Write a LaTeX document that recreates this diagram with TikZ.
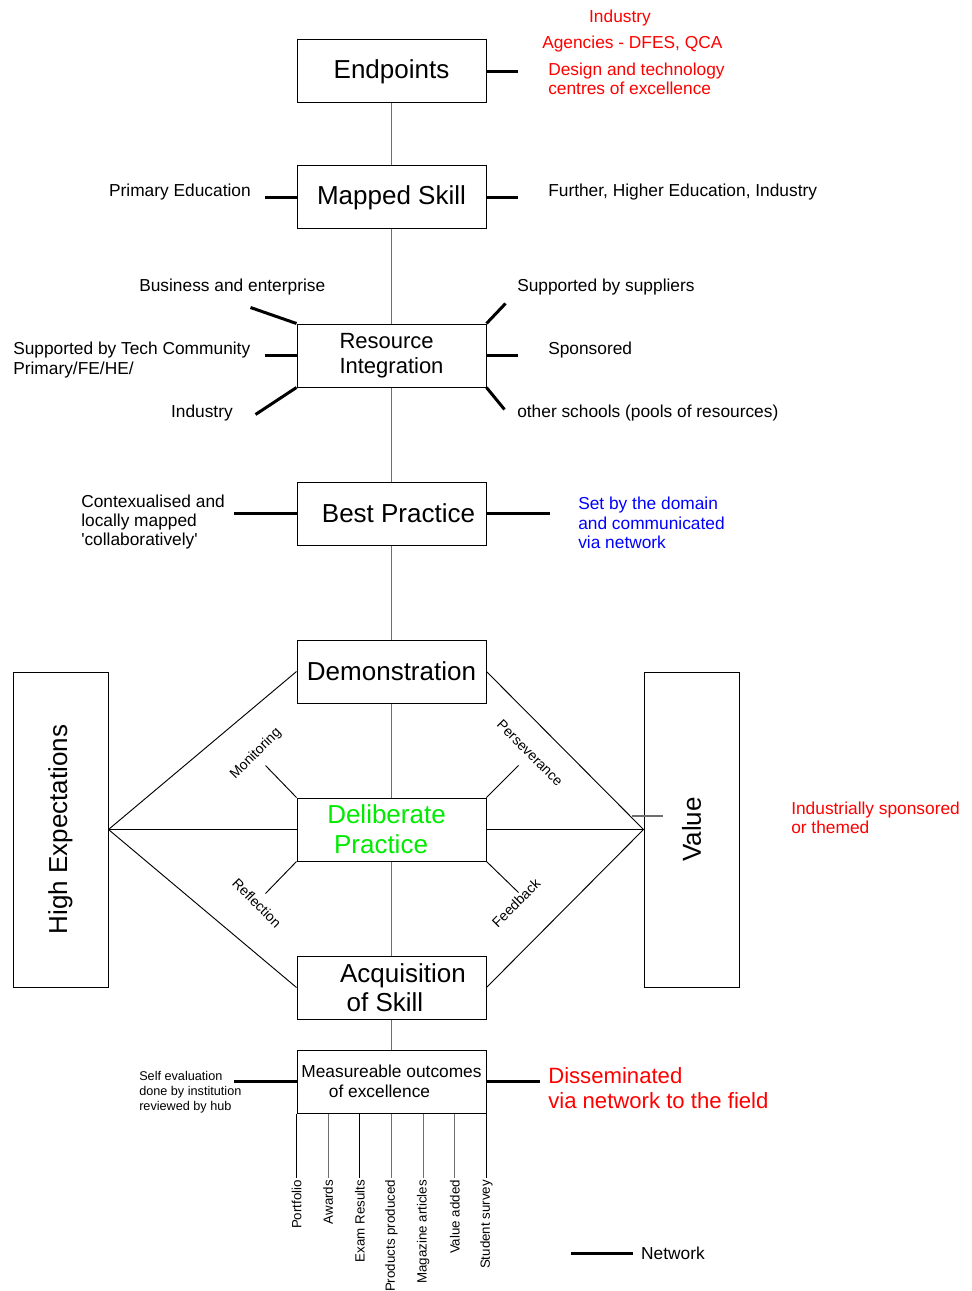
\documentclass[tikz,border=0pt]{standalone}
\usepackage{fontspec}
\setmainfont{Liberation Sans}
\usetikzlibrary{calc}
\definecolor{hubred}{RGB}{255,0,0}
\definecolor{hubblue}{RGB}{0,0,255}
\definecolor{hubgreen}{RGB}{0,235,0}
\definecolor{spinegray}{RGB}{110,110,110}
\tikzset{
  box/.style={rectangle, draw=black, line width=0.75pt, fill=white,
    minimum width=141.75pt, minimum height=47.25pt, inner sep=0pt,
    align=center, font=\fontsize{19.5}{22.5}\selectfont},
  sidebox/.style={box, minimum width=71.25pt, minimum height=236.25pt},
  spine/.style={draw=spinegray, line width=1pt},
  net/.style={draw=black, line width=2.25pt},
  fine/.style={draw=black, line width=0.7pt},
  lbl/.style={font=\fontsize{13}{14.6}\selectfont, inner sep=0pt, align=left},
  minilbl/.style={font=\fontsize{9.5}{11.25}\selectfont, inner sep=0pt, align=left},
  diaglbl/.style={font=\fontsize{10.5}{12}\selectfont, inner sep=0pt},
  outlbl/.style={font=\fontsize{10}{12}\selectfont, inner sep=1.5pt,
    rotate=90, anchor=east},
}
\begin{document}
\begin{tikzpicture}[x=0.75pt, y=-0.75pt]
  \useasboundingbox (0,0) rectangle (971,1291);

  % Main column of stages
  \node[box] (endp)   at (391.5,71.5)  {Endpoints};
  \node[box] (mapped) at (391.5,197.5) {Mapped Skill};
  \node[box, align=left, font=\fontsize{16.5}{18.75}\selectfont]
       (res) at (391.5,355.5) {Resource\\Integration};
  \node[box] (best)   at (391.5,513.5) {\hspace*{10.5pt}Best Practice};
  \node[box] (demo)   at (391.5,671.5) {Demonstration};
  \node[box, text=hubgreen] (delib) at (391.5,829.5)
       {Deliberate\hspace*{7.5pt}\\Practice\hspace*{15.75pt}};
  \node[box, font=\fontsize{19.5}{21.75}\selectfont]
       (acq) at (391.5,987.5) {\hspace*{17.25pt}Acquisition\\of Skill\hspace*{9.75pt}};
  \node[box, font=\fontsize{13}{15}\selectfont]
       (meas) at (391.5,1081.5) {Measureable outcomes\\of excellence\hspace*{18pt}};

  % Side pillars
  \node[sidebox] (hexp)  at (60.5,829.5)  {\rotatebox{90}{High Expectations}};
  \node[sidebox] (value) at (691.5,829.5) {\rotatebox{90}{Value}};

  % Spine
  \foreach \a/\b in {endp/mapped, mapped/res, res/best, best/demo,
                     demo/delib, delib/acq, acq/meas}
    \draw[spine] (\a) -- (\b);

  % Diamond round deliberate practice
  \foreach \n in {demo, delib, acq} {
    \draw[fine] (hexp.east) -- (\n.west);
    \draw[fine] (value.west) -- (\n.east);
  }
  \coordinate (vtick) at (632,816);
  \draw[spine] (vtick) -- ++(31,0);

  % Stubs of deliberate practice
  \draw[fine] (delib.north west) -- ++(-31,-32);
  \draw[fine] (delib.south west) -- ++(-31,32);
  \draw[fine] (delib.north east) -- ++(32,-32);
  \draw[fine] (delib.south east) -- ++(32,31);
  \node[diaglbl, rotate=45]  (mon) at (256,754) {Monitoring};
  \node[diaglbl, rotate=-45] (per) at (530,753) {Perseverance};
  \node[diaglbl, rotate=-45] (ref) at (257,903) {Reflection};
  \node[diaglbl, rotate=45]  (fee) at (516,903) {Feedback};

  % Network links
  \draw[net] (endp.east)   -- ++(31,0);
  \draw[net] (mapped.west) -- ++(-32,0);
  \draw[net] (mapped.east) -- ++(31,0);
  \draw[net] (res.west) -- ++(-32,0);
  \draw[net] (res.east) -- ++(31,0);
  \draw[net] (res.north west) -- ++(-46,-16);
  \draw[net] (res.north east) -- ++(19,-20);
  \draw[net] (res.south west) -- ++(-41,27);
  \draw[net] (res.south east) -- ++(18,22);
  \draw[net] (best.west) -- ++(-63,0);
  \draw[net] (best.east) -- ++(63,0);
  \draw[net] (meas.west) -- ++(-63,0);
  \draw[net] (meas.east) -- ++(53,0);

  % Labels
  \node[lbl, text=hubred] (ind1) at (620,18) {Industry};
  \node[lbl, text=hubred, anchor=west] (agen) at (542,44) {Agencies - DFES, QCA};
  \node[lbl, text=hubred, anchor=west] (dt) at (548,79)
       {Design and technology\\centres of excellence};
  \node[lbl, anchor=east] (prim) at (251,192) {Primary Education};
  \node[lbl, anchor=west] (fhe) at (548,192) {Further, Higher Education, Industry};
  \node[lbl, anchor=west] (bus) at (139,287) {Business and enterprise};
  \node[lbl, anchor=west] (supp) at (517,287) {Supported by suppliers};
  \node[lbl, anchor=west] (tech) at (13,360)
       {Supported by Tech Community\\Primary/FE/HE/};
  \node[lbl, anchor=west] (spon) at (548,350) {Sponsored};
  \node[lbl, anchor=east] (ind2) at (233,413) {Industry};
  \node[lbl, anchor=west] (pool) at (517,413) {other schools (pools of resources)};
  \node[lbl, anchor=west] (ctx) at (81,522)
       {Contexualised and\\locally mapped\\\textquotesingle collaboratively\textquotesingle};
  \node[lbl, text=hubblue, anchor=west] (dom) at (578,523)
       {Set by the domain\\and communicated\\via network};
  \node[lbl, text=hubred, anchor=west] (ispon) at (791,818)
       {Industrially sponsored\\or themed};
  \node[minilbl, anchor=west] (self) at (139,1092)
       {Self evaluation\\done by institution\\reviewed by hub};
  \node[lbl, text=hubred, anchor=west, font=\fontsize{16.6}{18.75}\selectfont]
       (diss) at (548,1088) {Disseminated\\via network to the field};

  % Outcome measures
  \foreach \t/\c [count=\i from 0] in {Portfolio/black, Awards/spinegray,
      Exam Results/black, Products produced/spinegray,
      Magazine articles/spinegray, Value added/spinegray,
      Student survey/black}
    \draw[draw=\c, line width=0.75pt]
      ($(meas.south west)!\i/6!(meas.south east)$) -- ++(0,64)
      node[outlbl] {\t};

  % Legend
  \coordinate (leg) at (571,1253);
  \draw[net] (leg) -- ++(62,0) node[lbl, right=5pt] (legtxt) {Network};
\end{tikzpicture}
\end{document}
